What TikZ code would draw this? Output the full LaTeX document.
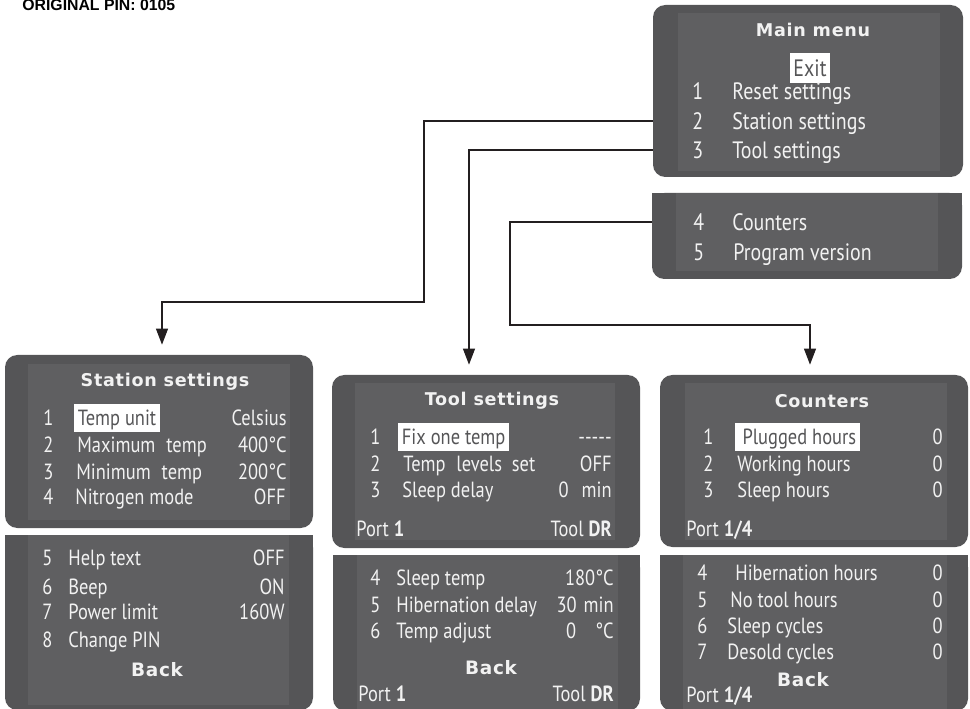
\documentclass[tikz,border=0pt]{standalone}
\usepackage{fontspec}
\setmainfont{PT Sans}[FakeStretch=0.84]
\newfontfamily\titlefont{DejaVu Sans}[LetterSpace=4]
\newfontfamily\backfont{DejaVu Sans}[LetterSpace=4]
\newfontfamily\pinfont{Liberation Sans}
\usetikzlibrary{arrows.meta, positioning, calc, fit}
\definecolor{panelgray}{HTML}{555557}
\definecolor{screengray}{HTML}{5F5F61}
\definecolor{lcdwhite}{HTML}{F2F2F2}
\definecolor{linkblack}{HTML}{231F20}

\begin{document}
\begin{tikzpicture}[
    x=0.02cm, y=-0.02cm,
    panel/.style={fill=panelgray, rounded corners=7pt, inner sep=0pt},
    screen/.style={fill=screengray, inner sep=0pt},
    menutitle/.style={font=\titlefont\bfseries\fontsize{10}{12}\selectfont, text=lcdwhite},
    item/.style={font=\fontsize{12.5}{14}\selectfont, text=lcdwhite,
                 inner sep=0pt, text height=8.75pt, text depth=0pt},
    bigitem/.style={item, font=\fontsize{13.5}{15}\selectfont, text height=9.45pt},
    hilite/.style={fill=white, text=panelgray, inner xsep=2pt, inner ysep=3.6pt},
    backlabel/.style={font=\backfont\bfseries\fontsize{10.5}{12}\selectfont, text=lcdwhite},
    link/.style={draw=linkblack, line width=0.6pt},
    arrow/.style={link, -{Triangle[length=0.32cm, width=0.24cm]}, shorten >=0.2cm},
]
    \useasboundingbox (0,0) rectangle (970,709);

    % PIN note
    \node[font=\pinfont\bfseries\fontsize{9}{10}\selectfont, anchor=base west, inner sep=0pt] (pin) at (22,11) {ORIGINAL PIN: 0105};

    % Main menu
    \node[panel, fit={(653,5) (963,177)}] (mainA) {};
    \node[screen, fit={(678,13) (940,171)}] (mainAscr) {};
    \node[menutitle] (mainT) at (813,30) {Main menu};
    \node[bigitem, hilite] (exit) at (810,68) {Exit};
    \node[bigitem, anchor=west] (m1) at (692,91) {1};
    \node[bigitem, anchor=west] (m1t) at (732,91) {Reset settings};
    \node[bigitem, anchor=west] (m2) at (692,121) {2};
    \node[bigitem, anchor=west] (m2t) at (732,121) {Station settings};
    \node[bigitem, anchor=west] (m3) at (692,150) {3};
    \node[bigitem, anchor=west] (m3t) at (732,150) {Tool settings};

    \node[panel, fit={(652,193) (962,279)}] (mainB) {};
    \fill[panelgray] (mainB.north west) rectangle (mainB.east);
    \node[screen, fit={(676,193) (938,271)}] (mainBscr) {};
    \node[bigitem, anchor=west] (m4) at (693,222) {4};
    \node[bigitem, anchor=west] (m4t) at (732,222) {Counters};
    \node[bigitem, anchor=west] (m5) at (693,252) {5};
    \node[bigitem, anchor=west] (m5t) at (733,252) {Program version};

    % Station settings
    \node[panel, fit={(5,355) (313,528)}] (stationA) {};
    \node[screen, fit={(28,364) (290,520)}] (stationAscr) {};
    \node[menutitle] (stationT) at (165,382) {Station settings};
    \node[item, anchor=west] (s1) at (43,418) {1};
    \node[item, hilite, anchor=west] (s1t) at (74,418) {Temp unit};
    \node[item, anchor=east] (s1v) at (287,418) {Celsius};
    \node[item, anchor=west] (s2) at (43,445) {2};
    \node[item, anchor=west] (s2t) at (77,445) {Maximum\hspace{0.12cm} temp};
    \node[item, anchor=east] (s2v) at (287,445) {400°C};
    \node[item, anchor=west] (s3) at (43,472) {3};
    \node[item, anchor=west] (s3t) at (76,472) {Minimum\hspace{0.12cm} temp};
    \node[item, anchor=east] (s3v) at (287,472) {200°C};
    \node[item, anchor=west] (s4) at (43,497) {4};
    \node[item, anchor=west] (s4t) at (75,497) {Nitrogen mode};
    \node[item, anchor=east] (s4v) at (286,497) {OFF};

    \node[panel, fit={(5,535) (313,710)}] (stationB) {};
    \fill[panelgray] (stationB.north west) rectangle (stationB.east);
    \node[screen, fit={(28,535) (289,705)}] (stationBscr) {};
    \node[item, anchor=west] (s5) at (42,558) {5};
    \node[item, anchor=west] (s5t) at (68,558) {Help text};
    \node[item, anchor=east] (s5v) at (285,558) {OFF};
    \node[item, anchor=west] (s6) at (42,587) {6};
    \node[item, anchor=west] (s6t) at (68,587) {Beep};
    \node[item, anchor=east] (s6v) at (285,587) {ON};
    \node[item, anchor=west] (s7) at (42,612) {7};
    \node[item, anchor=west] (s7t) at (68,612) {Power limit};
    \node[item, anchor=east] (s7v) at (285,612) {160W};
    \node[item, anchor=west] (s8) at (42,640) {8};
    \node[item, anchor=west] (s8t) at (68,640) {Change PIN};
    \node[backlabel] (sback) at (157,670) {Back};

    % Tool settings
    \node[panel, fit={(332,375) (640,548)}] (toolA) {};
    \node[screen, fit={(355,383) (615,540)}] (toolAscr) {};
    \node[menutitle] (toolT) at (492,401) {Tool settings};
    \node[item, anchor=west] (t1) at (370,437) {1};
    \node[item, hilite, anchor=west] (t1t) at (398,437) {Fix one temp};
    \node[item, anchor=east] (t1v) at (612,437) {-{}-{}-{}-{}-};
    \node[item, anchor=west] (t2) at (370,464) {2};
    \node[item, anchor=west] (t2t) at (403,464) {Temp\hspace{0.12cm} levels\hspace{0.1cm} set};
    \node[item, anchor=east] (t2v) at (612,464) {OFF};
    \node[item, anchor=west] (t3) at (370,490) {3};
    \node[item, anchor=west] (t3t) at (402,490) {Sleep delay};
    \node[item, anchor=east] (t3v) at (612,490) {0\hspace{0.26cm}min};
    \node[item, anchor=west] (tport) at (356,529) {Port \textbf{1}};
    \node[item, anchor=east] (ttool) at (612,529) {Tool \textbf{DR}};

    \node[panel, fit={(333,555) (640,711)}] (toolB) {};
    \fill[panelgray] (toolB.north west) rectangle (toolB.east);
    \node[screen, fit={(357,555) (618,709)}] (toolBscr) {};
    \node[item, anchor=west] (t4) at (370,578) {4};
    \node[item, anchor=west] (t4t) at (396,578) {Sleep temp};
    \node[item, anchor=east] (t4v) at (614,578) {180°C};
    \node[item, anchor=west] (t5) at (370,605) {5};
    \node[item, anchor=west] (t5t) at (396,605) {Hibernation delay};
    \node[item, anchor=east] (t5v) at (614,605) {30\hspace{0.14cm}min};
    \node[item, anchor=west] (t6) at (370,631) {6};
    \node[item, anchor=west] (t6t) at (396,631) {Temp adjust};
    \node[item, anchor=east] (t6v) at (614,631) {0\hspace{0.38cm}°C};
    \node[backlabel] (tback) at (491,668) {Back};
    \node[item, anchor=west] (tport2) at (358,694) {Port \textbf{1}};
    \node[item, anchor=east] (ttool2) at (614,694) {Tool \textbf{DR}};

    % Counters
    \node[panel, fit={(660,375) (968,547)}] (countA) {};
    \node[screen, fit={(685,383) (947,540)}] (countAscr) {};
    \node[menutitle] (countT) at (822,401) {Counters};
    \node[item, anchor=west] (c1) at (703,437) {1};
    \node[item, hilite, anchor=west] (c1t) at (735,437) {\,Plugged hours};
    \node[item, anchor=east] (c1v) at (943,437) {0};
    \node[item, anchor=west] (c2) at (703,464) {2};
    \node[item, anchor=west] (c2t) at (737,464) {Working hours};
    \node[item, anchor=east] (c2v) at (943,464) {0};
    \node[item, anchor=west] (c3) at (703,490) {3};
    \node[item, anchor=west] (c3t) at (737,490) {Sleep hours};
    \node[item, anchor=east] (c3v) at (943,490) {0};
    \node[item, anchor=west] (cport) at (686,529) {Port \textbf{1/4}};

    \node[panel, fit={(660,555) (968,711)}] (countB) {};
    \fill[panelgray] (countB.north west) rectangle (countB.east);
    \node[screen, fit={(683,555) (947,709)}] (countBscr) {};
    \node[item, anchor=west] (c4) at (697,573) {4};
    \node[item, anchor=west] (c4t) at (735,573) {Hibernation hours};
    \node[item, anchor=east] (c4v) at (943,573) {0};
    \node[item, anchor=west] (c5) at (697,600) {5};
    \node[item, anchor=west] (c5t) at (730,600) {No tool hours};
    \node[item, anchor=east] (c5v) at (943,600) {0};
    \node[item, anchor=west] (c6) at (697,626) {6};
    \node[item, anchor=west] (c6t) at (727,626) {Sleep cycles};
    \node[item, anchor=east] (c6v) at (943,626) {0};
    \node[item, anchor=west] (c7) at (697,652) {7};
    \node[item, anchor=west] (c7t) at (727,652) {Desold cycles};
    \node[item, anchor=east] (c7v) at (943,652) {0};
    \node[backlabel] (cback) at (803,680) {Back};
    \node[item, anchor=west] (cport2) at (686,695) {Port \textbf{1/4}};

    % Connections
    \coordinate (bendA) at (424,302);
    \coordinate (bendC) at (510,325);
    \draw[arrow] (mainA.west |- m2) -| (bendA) -| ($(stationA.north)+(3,0)$);
    \draw[arrow] (mainA.west |- m3) -| ($(toolA.north)+(-17,0)$);
    \draw[arrow] (mainB.west |- m4) -| (bendC) -| ($(countA.north)+(-4,0)$);
\end{tikzpicture}
\end{document}
